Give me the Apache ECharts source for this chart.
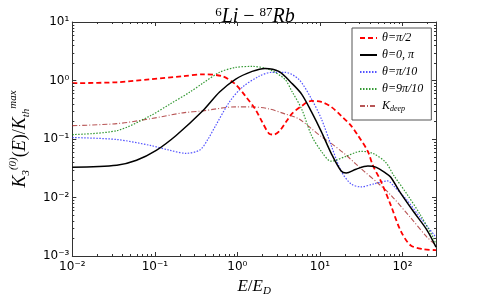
<!DOCTYPE html>
<html><head><meta charset="utf-8">
<script src="https://cdn.jsdelivr.net/npm/echarts@6/dist/echarts.min.js"></script>
<style>html,body{margin:0;padding:0;background:#fff}#c{width:491px;height:302px}</style>
</head><body><div id="c"></div>
<script>
// ---- data (E/E_D, K3/Kmax) ----
const eRed   = [0.01, 0.0346, 0.088, 0.219, 0.381, 0.661, 0.946, 1.25, 1.64, 1.99, 2.42, 2.77, 3.27, 3.97, 4.56, 6.00, 7.91, 10.4, 13.7, 18.1, 23.8, 28.9, 38.1, 43.7, 54.6, 71.8, 94.6, 125, 178, 255];
const kRed   = [0.899, 0.933, 1.05, 1.18, 1.275, 1.18, 0.865, 0.542, 0.327, 0.197, 0.124, 0.119, 0.139, 0.205, 0.269, 0.367, 0.447, 0.430, 0.354, 0.249, 0.169, 0.115, 0.0615, 0.0357, 0.0192, 0.00755, 0.00275, 0.00153, 0.00131, 0.00126];
const eBlack = [0.01, 0.0346, 0.06, 0.104, 0.181, 0.381, 0.608, 0.946, 1.51, 2.16, 3.18, 4.56, 6.00, 7.91, 10.4, 13.7, 18.1, 20.8, 27.4, 38.1, 47.5, 62.5, 71.8, 94.6, 136, 199, 255];
const kBlack = [0.033, 0.0357, 0.0434, 0.064, 0.115, 0.303, 0.634, 1.05, 1.43, 1.61, 1.43, 0.899, 0.586, 0.291, 0.134, 0.0569, 0.0283, 0.0262, 0.0305, 0.0344, 0.033, 0.0262, 0.0224, 0.012, 0.00575, 0.00275, 0.00142];
const eBlue  = [0.01, 0.0346, 0.088, 0.153, 0.238, 0.351, 0.438, 0.546, 0.802, 1.15, 1.83, 2.62, 3.76, 5.53, 7.91, 10.4, 13.7, 18.1, 23.8, 31.4, 45.0, 66.1, 78.0, 115, 164, 255];
const kBlue  = [0.106, 0.098, 0.0777, 0.064, 0.0569, 0.065, 0.098, 0.17, 0.43, 0.769, 1.18, 1.38, 1.38, 1.05, 0.483, 0.222, 0.0777, 0.0283, 0.0171, 0.0152, 0.0171, 0.0192, 0.0158, 0.0088, 0.00455, 0.00209];
const eGreen = [0.01, 0.0346, 0.088, 0.153, 0.266, 0.381, 0.608, 0.946, 1.51, 2.42, 3.76, 4.56, 6.00, 7.91, 10.4, 13.7, 20.8, 31.4, 43.7, 62.5, 78.0, 115, 164, 235, 255];
const kGreen = [0.119, 0.139, 0.249, 0.397, 0.634, 0.899, 1.38, 1.67, 1.74, 1.55, 1.05, 0.659, 0.327, 0.115, 0.0615, 0.0417, 0.0507, 0.0615, 0.0569, 0.0401, 0.0242, 0.0111, 0.00512, 0.00209, 0.0016];
const eBrown = [0.01, 0.0346, 0.088, 0.219, 0.381, 0.946, 1.51, 2.42, 3.76, 5.53, 7.91, 10.4, 13.7, 19.6, 27.4, 34.1, 50.2, 71.8, 125, 199, 255];
const kBrown = [0.169, 0.183, 0.222, 0.28, 0.303, 0.354, 0.354, 0.327, 0.269, 0.222, 0.150, 0.110, 0.084, 0.0569, 0.0371, 0.0283, 0.0177, 0.0111, 0.00455, 0.00209, 0.00153];
const seriesNames = ['θ=π/2', 'θ=0, π', 'θ=π/10', 'θ=9π/10', 'K_deep'];
const xMin = 0.01, xMax = 255, yMin = 0.001, yMax = 10;

const pair = (xs, ys) => xs.map((x, i) => [x, ys[i]]);
const SUP = {'-':'⁻','0':'⁰','1':'¹','2':'²','3':'³','4':'⁴'};
function logLabel(v) {
  const l = Math.log10(v), e = Math.round(l);
  if (Math.abs(l - e) > 1e-6) return '';
  return '10' + String(e).split('').map(c => SUP[c]).join('');
}
const serif = 'Liberation Serif';
const axisCol = '#333';

function renderMinor(params, api) {
  const ch = [];
  const bl = api.coord([xMin, yMin]), tr = api.coord([xMax, yMax]);
  const st = {stroke: axisCol, lineWidth: 1};
  for (let d = -2; d <= 2; d++) for (let k = 2; k <= 9; k++) {
    const v = k * Math.pow(10, d); if (v >= xMax) continue;
    const x = Math.round(api.coord([v, yMin])[0]) + 0.5;
    ch.push({type: 'line', shape: {x1: x, y1: bl[1], x2: x, y2: bl[1] - 2}, style: st});
    ch.push({type: 'line', shape: {x1: x, y1: tr[1], x2: x, y2: tr[1] + 2}, style: st});
  }
  for (let d = -3; d <= 0; d++) for (let k = 2; k <= 9; k++) {
    const v = k * Math.pow(10, d);
    const y = Math.round(api.coord([xMin, v])[1]) + 0.5;
    ch.push({type: 'line', shape: {x1: bl[0], y1: y, x2: bl[0] + 2, y2: y}, style: st});
    ch.push({type: 'line', shape: {x1: tr[0], y1: y, x2: tr[0] - 2, y2: y}, style: st});
  }
  return {type: 'group', children: ch};
}

const chart = echarts.init(document.getElementById('c'), null, {renderer: 'canvas'});
const baseX = {type: 'log', logBase: 10, min: xMin, max: xMax, gridIndex: 0,
  axisLine: {show: true, lineStyle: {color: axisCol, width: 1}},
  axisTick: {show: true, inside: true, length: 4, lineStyle: {color: axisCol}},
  splitLine: {show: false}};
const baseY = {type: 'log', logBase: 10, min: yMin, max: yMax, gridIndex: 0,
  axisLine: {show: true, lineStyle: {color: axisCol, width: 1}},
  axisTick: {show: true, inside: true, length: 4, lineStyle: {color: axisCol}},
  splitLine: {show: false}};

const line = (name, xs, ys, color, width, type, z) => ({
  name, type: 'line', data: pair(xs, ys), smooth: 0.3, symbol: 'none', z,
  lineStyle: {color, width, type}, itemStyle: {color}
});
const tok = (o) => Object.assign({fontFamily: serif, color: '#000', fontWeight: 'normal'}, o);

chart.setOption({
  animation: false,
  backgroundColor: '#fff',
  title: {
    text: '{s|6}{i|Li} {n|−} {s|87}{i|Rb}', left: 250, top: 1, textAlign: 'center',
    textStyle: {fontWeight: 'normal', rich: {
      i: tok({fontStyle: 'italic', fontSize: 20, lineHeight: 22}),
      n: tok({fontSize: 20, lineHeight: 22}),
      s: tok({fontSize: 13, verticalAlign: 'top', lineHeight: 22})
    }}
  },
  grid: {left: 68, top: 22, right: 55, bottom: 43},
  xAxis: [
    Object.assign({}, baseX, {position: 'bottom',
      axisLabel: {formatter: logLabel, color: '#000', fontFamily: 'DejaVu Sans', fontSize: 12, margin: 5, showMaxLabel: false},
      name: '{i|E}{n|/}{i|E}{s|D}', nameLocation: 'middle', nameGap: 21,
      nameTextStyle: {rich: {
        i: tok({fontStyle: 'italic', fontSize: 17, lineHeight: 20}),
        n: tok({fontSize: 17, lineHeight: 20}),
        s: tok({fontStyle: 'italic', fontSize: 11, verticalAlign: 'bottom', lineHeight: 20})
      }}}),
    Object.assign({}, baseX, {position: 'top', axisLabel: {show: false}})
  ],
  yAxis: [
    Object.assign({}, baseY, {position: 'left',
      axisLabel: {formatter: logLabel, color: '#000', fontFamily: 'DejaVu Sans', fontSize: 12, margin: 3},
      name: '{i|K}{b|3}{t|(0)}{n|(}{i|E}{n|)/}{i|K}{b|th}{t|max}', nameLocation: 'middle', nameGap: 20, nameRotate: 90,
      nameTextStyle: {rich: {
        i: tok({fontStyle: 'italic', fontSize: 18, lineHeight: 24}),
        n: tok({fontSize: 18, lineHeight: 24}),
        b: tok({fontStyle: 'italic', fontSize: 11, verticalAlign: 'bottom', lineHeight: 24}),
        t: tok({fontStyle: 'italic', fontSize: 11, verticalAlign: 'top', lineHeight: 24})
      }}}),
    Object.assign({}, baseY, {position: 'right', axisLabel: {show: false}})
  ],
  legend: {
    data: seriesNames, orient: 'vertical', left: 352, top: 28,
    padding: [4, 8, 7, 7], itemGap: 5, itemWidth: 17, itemHeight: 14,
    backgroundColor: '#fff', borderColor: '#555', borderWidth: 1,
    itemStyle: {opacity: 0},
    formatter: n => n === 'K_deep' ? '{i|K}{s|deep}' : '{i|' + n + '}',
    textStyle: {rich: {
      i: tok({fontStyle: 'italic', fontSize: 12, lineHeight: 14}),
      s: tok({fontStyle: 'italic', fontSize: 8, verticalAlign: 'bottom', lineHeight: 14})
    }}
  },
  series: [
    line(seriesNames[0], eRed, kRed, '#ff0000', 1.8, [5, 3], 5),
    line(seriesNames[1], eBlack, kBlack, '#000000', 1.5, 'solid', 6),
    line(seriesNames[2], eBlue, kBlue, 'rgba(40,40,255,0.8)', 1.2, [1.5, 1.5], 4),
    line(seriesNames[3], eGreen, kGreen, 'rgba(0,128,0,0.8)', 1.2, [1.5, 1.5], 4),
    line(seriesNames[4], eBrown, kBrown, 'rgba(160,30,30,0.75)', 1.1, [5, 2, 1, 2], 3),
    {type: 'custom', renderItem: renderMinor, data: [[xMin, yMin]], silent: true, clip: false, z: 10,
      xAxisIndex: 0, yAxisIndex: 0}
  ]
});
</script>
</body></html>
